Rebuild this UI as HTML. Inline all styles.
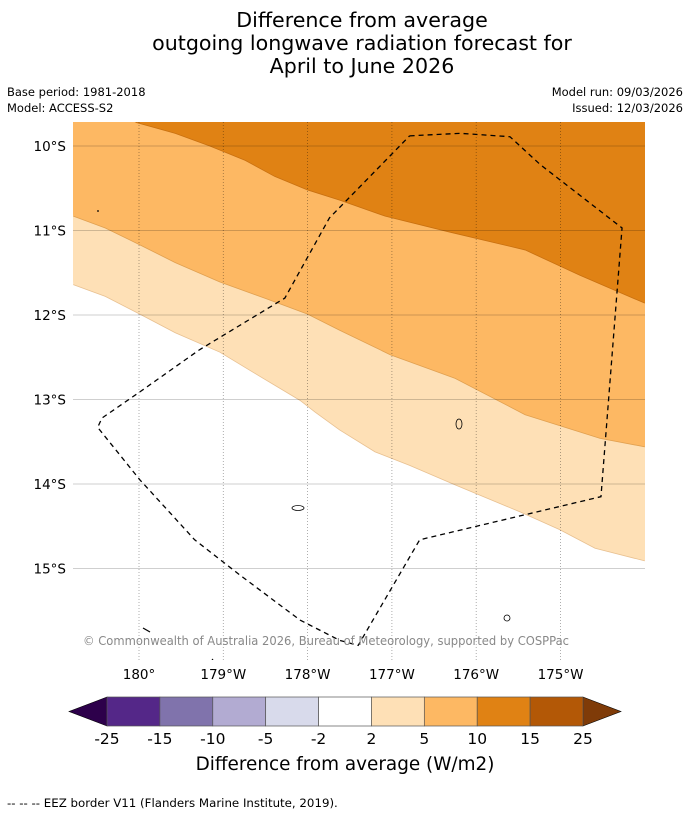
<!DOCTYPE html>
<html><head><meta charset="utf-8"><style>
body{margin:0;background:#fff;width:690px;height:816px;overflow:hidden;font-family:"DejaVu Sans","Liberation Sans",sans-serif}
</style></head><body>
<svg width="690" height="816" xmlns="http://www.w3.org/2000/svg" font-family="DejaVu Sans, Liberation Sans, sans-serif">
<g font-size="20.6" text-anchor="middle" fill="#000">
<text x="362" y="27">Difference from average</text>
<text x="362" y="50">outgoing longwave radiation forecast for</text>
<text x="362" y="73">April to June 2026</text>
</g>
<g font-size="11.5" fill="#000">
<text x="7" y="96">Base period: 1981-2018</text>
<text x="7" y="112">Model: ACCESS-S2</text>
<text x="683" y="96" text-anchor="end">Model run: 09/03/2026</text>
<text x="683" y="112" text-anchor="end">Issued: 12/03/2026</text>
</g>
<defs><clipPath id="mc"><rect x="73" y="122" width="572" height="538"/></clipPath></defs>
<g id="map" clip-path="url(#mc)"></g>
<g id="axes"></g>
<g id="cbar"></g>
<text x="345" y="770" text-anchor="middle" font-size="18.4">Difference from average (W/m2)</text>
<text x="7" y="807" font-size="11.8">--  --  -- EEZ border V11 (Flanders Marine Institute, 2019).</text>
</svg>
<script>
// degrees west of 180 (d) and latitude south
const darkD=[-0.04,0.43,0.84,1.26,1.61,2.0,2.38,2.92,3.69,4.58,5.23,6.0];
const darkLat=[9.72,9.85,10.0,10.17,10.36,10.52,10.64,10.83,11.02,11.23,11.53,11.86];
const lightD=[-0.78,-0.40,0.01,0.43,0.96,1.49,2.0,2.38,2.98,3.75,4.58,5.47,6.0];
const lightLat=[10.83,10.97,11.17,11.38,11.61,11.80,11.99,12.18,12.47,12.75,13.18,13.46,13.56];
const paleD=[-0.78,-0.40,0.01,0.43,0.96,1.44,1.91,2.09,2.38,2.80,3.21,3.75,4.52,4.99,5.41,6.0];
const paleLat=[11.64,11.78,11.99,12.21,12.44,12.73,13.01,13.15,13.36,13.62,13.78,14.01,14.33,14.54,14.76,14.91];
const eezD=[3.21,3.81,4.40,4.76,5.73,5.48,3.33,2.60,2.38,1.91,1.20,0.66,0.01,-0.49,-0.44,0.01,0.72,1.73,2.26,3.21];
const eezLat=[9.88,9.85,9.89,10.22,10.97,14.15,14.66,15.91,15.85,15.61,15.08,14.66,13.95,13.33,13.22,12.91,12.41,11.80,10.85,9.88];
const lonTicks=[0,1,2,3,4,5];
const lonLabels=["180°","179°W","178°W","177°W","176°W","175°W"];
const latTicks=[10,11,12,13,14,15];
const latLabels=["10°S","11°S","12°S","13°S","14°S","15°S"];
const cbLabels=["-25","-15","-10","-5","-2","2","5","10","15","25"];
const cbColors=["#542788","#8073ac","#b2abd2","#d8daeb","#ffffff","#fee0b6","#fdb863","#e08214","#b35806"];

const X=d=>139+d*84.3, Y=l=>146+(l-10)*84.5;
const NS="http://www.w3.org/2000/svg";
function mk(t,a,p){const e=document.createElementNS(NS,t);for(const k in a)e.setAttribute(k,a[k]);p.appendChild(e);return e;}
const map=document.getElementById('map'), axes=document.getElementById('axes'), cb=document.getElementById('cbar');
function band(D,L,col,name,edge){
  let pts=D.map((d,i)=>X(d)+','+Y(L[i]));
  pts.push('700,100','60,100');
  const e=mk('polygon',{points:pts.join(' '),fill:col},map);
  
  
  mk('polyline',{points:D.map((d,i)=>X(d)+','+Y(L[i])).join(' '),fill:'none',stroke:edge,'stroke-width':0.8},map);
}
band(paleD,paleLat,'#fee0b6','contour-2-5','#e8c090');
band(lightD,lightLat,'#fdb863','contour-5-10','#e0a050');
band(darkD,darkLat,'#e08214','contour-10-15','#c87010');
// gridlines
latTicks.forEach((l,i)=>{
  const g=mk('line',{x1:73,x2:645,y1:Y(l),y2:Y(l),stroke:'#000','stroke-opacity':0.25,'stroke-width':0.8},map);
  
  
  const t=mk('text',{x:66,y:Y(l)+5,'text-anchor':'end','font-size':13.5},axes);t.textContent=latLabels[i];
  
  
});
lonTicks.forEach((d,i)=>{
  const g=mk('line',{x1:X(d),x2:X(d),y1:122,y2:660,stroke:'#000','stroke-opacity':0.4,'stroke-width':0.8,'stroke-dasharray':'1,2'},map);
  
  
  const t=mk('text',{x:X(d),y:679,'text-anchor':'middle','font-size':13.5},axes);t.textContent=lonLabels[i];
  
  
});
// islands
[[459,424,3,5],[298,508,6,2.5],[507,618,3,3]].forEach(p=>{
  const e=mk('ellipse',{cx:p[0],cy:p[1],rx:p[2],ry:p[3],fill:'none',stroke:'#000','stroke-width':0.8},map);
  
  
});
mk('line',{x1:143,y1:628,x2:150,y2:632,stroke:'#000','stroke-width':1.2},map);
mk('line',{x1:98,y1:210,x2:98,y2:212,stroke:'#000','stroke-width':1.2},map);
mk('line',{x1:212,y1:659,x2:213,y2:660,stroke:'#000','stroke-width':1.2},map);
// eez
const ez=mk('polyline',{points:eezD.map((d,i)=>X(d)+','+Y(eezLat[i])).join(' '),fill:'none',stroke:'#000','stroke-width':1.3,'stroke-dasharray':'5,4'},map);


const cp=mk('text',{x:326,y:645,'text-anchor':'middle','font-size':12,fill:'#888','textLength':486,'lengthAdjust':'spacingAndGlyphs'},map);
cp.textContent='© Commonwealth of Australia 2026, Bureau of Meteorology, supported by COSPPac';


// colorbar
const x0=107,x1=583,w=(x1-x0)/9,yt=697,yb=726;
mk('polygon',{points:`${x0},${yt} ${x0},${yb} 69,711.5`,fill:'#2d004b',stroke:'#000','stroke-width':0.6},cb);
mk('polygon',{points:`${x1},${yt} ${x1},${yb} 621,711.5`,fill:'#7f3b08',stroke:'#000','stroke-width':0.6},cb);
cbColors.forEach((c,i)=>{
  const r=mk('rect',{x:x0+i*w,y:yt,width:w,height:yb-yt,fill:c,stroke:'#555','stroke-width':0.7},cb);
  
  
});
cbLabels.forEach((s,i)=>{
  const t=mk('text',{x:x0+i*w,y:744,'text-anchor':'middle','font-size':15.5},cb);t.textContent=s;
  
  
});
</script>
</body></html>
